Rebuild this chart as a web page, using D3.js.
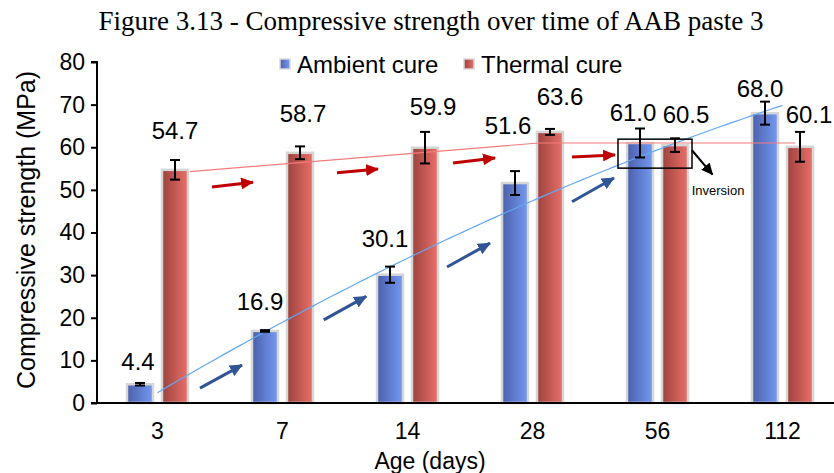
<!DOCTYPE html>
<html lang="en">
<head>
  <meta charset="utf-8">
  <title>Compressive strength over time of AAB paste 3</title>
  <script src="https://d3js.org/d3.v7.min.js"></script>
  <style>
    body { margin: 0; background: #fff; }
    text { font-family: "Liberation Sans", Arial, sans-serif; fill: #000; }
  </style>
</head>
<body>
<div id="chart"></div>
<script>
  // data
  var ages = ["3", "7", "14", "28", "56", "112"];
  var ambient = [4.4, 16.9, 30.1, 51.6, 61.0, 68.0];
  var thermal = [54.7, 58.7, 59.9, 63.6, 60.5, 60.1];
  var ambientErr = [0.3, 0.2, 1.9, 2.8, 3.4, 2.7];
  var thermalErr = [2.3, 1.5, 3.7, 0.7, 1.6, 3.5];
  var yTicks = [0, 10, 20, 30, 40, 50, 60, 70, 80];

  var width = 834, height = 473;
  var plotLeft = 97, plotRight = 845, plotTop = 62, plotBottom = 403;

  var svg = d3.select("#chart").append("svg")
    .attr("width", width)
    .attr("height", height);

  var defs = svg.append("defs");
  function grad(id, c0, c1) {
    var g = defs.append("linearGradient").attr("id", id)
      .attr("x1", "0%").attr("x2", "100%").attr("y1", "0%").attr("y2", "0%");
    g.append("stop").attr("offset", "0%").attr("stop-color", c0);
    g.append("stop").attr("offset", "100%").attr("stop-color", c1);
  }
  grad("gBlue", "#4a60ab", "#7599f2");
  grad("gRed", "#9c423d", "#ea6f69");

  function marker(id, color, len, wid) {
    defs.append("marker").attr("id", id)
      .attr("markerUnits", "userSpaceOnUse")
      .attr("viewBox", "0 0 " + len + " " + wid)
      .attr("refX", len - 1).attr("refY", wid / 2)
      .attr("markerWidth", len).attr("markerHeight", wid)
      .attr("orient", "auto")
      .append("path")
      .attr("d", "M0,0L" + len + "," + (wid / 2) + "L0," + wid + "Z")
      .attr("fill", color);
  }
  marker("mRed", "#c00000", 13, 12);
  marker("mBlue", "#2f5597", 13, 12);
  marker("mBlack", "#000", 12, 11);

  // scales
  var x0 = d3.scaleBand().domain(ages).range([plotLeft - 2, plotRight])
    .paddingInner(0.512).paddingOuter(0.256);
  var x1 = d3.scaleBand().domain(["a", "t"]).range([0, x0.bandwidth()])
    .paddingInner(0.257);
  var y = d3.scaleLinear().domain([0, 80]).range([plotBottom, plotTop]);
  // group index -> group centre, used for the annotations
  var xi = d3.scaleLinear().domain([0, 1])
    .range([x0(ages[0]) + x0.bandwidth() / 2, x0(ages[1]) + x0.bandwidth() / 2]);

  // title
  svg.append("text")
    .attr("x", 431).attr("y", 30)
    .attr("text-anchor", "middle")
    .style("font-family", "'Liberation Serif', 'Times New Roman', serif")
    .style("font-size", "27px")
    .text("Figure 3.13 - Compressive strength over time of AAB paste 3");

  // legend
  var legend = [["Ambient cure", "url(#gBlue)", 280], ["Thermal cure", "url(#gRed)", 464]];
  legend.forEach(function(l) {
    svg.append("rect").attr("x", l[2]).attr("y", 59).attr("width", 10).attr("height", 10)
      .attr("fill", l[1]).attr("stroke", "#d9d9d9").attr("stroke-width", 1.5);
    svg.append("text").attr("x", l[2] + 17).attr("y", 73)
      .style("font-size", "24px").text(l[0]);
  });

  // bars
  var rows = ages.map(function(a, i) {
    return [
      { age: a, key: "a", v: ambient[i], e: ambientErr[i], fill: "url(#gBlue)" },
      { age: a, key: "t", v: thermal[i], e: thermalErr[i], fill: "url(#gRed)" }
    ];
  });
  var flat = [].concat.apply([], rows);

  svg.selectAll(".bar").data(flat).enter().append("rect")
    .attr("class", "bar")
    .attr("x", function(d) { return x0(d.age) + x1(d.key); })
    .attr("y", function(d) { return y(d.v); })
    .attr("width", x1.bandwidth())
    .attr("height", function(d) { return y(0) - y(d.v); })
    .attr("fill", function(d) { return d.fill; })
    .attr("stroke", "#d6d6d6")
    .attr("stroke-width", 2.5);

  // quadratic trendline of the ambient series
  var n = ambient.length;
  var ts = d3.range(n).map(function(i) { return i - (n - 1) / 2; });
  var uMean = d3.mean(ts, function(t) { return t * t; });
  var us = ts.map(function(t) { return t * t - uMean; });
  var yMean = d3.mean(ambient);
  var c1 = d3.sum(ts, function(t, i) { return t * ambient[i]; }) / d3.sum(ts, function(t) { return t * t; });
  var c2 = d3.sum(us, function(u, i) { return u * ambient[i]; }) / d3.sum(us, function(u) { return u * u; });
  function trend(i) {
    var t = i - (n - 1) / 2;
    return yMean + c1 * t + c2 * (t * t - uMean);
  }
  var line = d3.line()
    .x(function(d) { return xi(d); })
    .y(function(d) { return y(trend(d)); });
  svg.append("path")
    .datum(d3.range(0, n - 1 + 0.001, 0.05))
    .attr("d", line)
    .attr("fill", "none")
    .attr("stroke", "#62a8f3")
    .attr("stroke-width", 1.2);

  // thermal guide line (drawn shape in the original)
  var redGuide = [[0.26, 54.3], [3.05, 61.0], [5.1, 61.0]];
  svg.append("path")
    .attr("d", d3.line().x(function(d) { return xi(d[0]); }).y(function(d) { return y(d[1]); })(redGuide))
    .attr("fill", "none")
    .attr("stroke", "#f47c7c")
    .attr("stroke-width", 1.2);

  // error bars
  var eb = svg.append("g").attr("stroke", "#000").attr("stroke-width", 2);
  flat.forEach(function(d) {
    var cx = x0(d.age) + x1(d.key) + x1.bandwidth() / 2;
    eb.append("line").attr("x1", cx).attr("x2", cx).attr("y1", y(d.v - d.e)).attr("y2", y(d.v + d.e));
    eb.append("line").attr("x1", cx - 5).attr("x2", cx + 5).attr("y1", y(d.v - d.e)).attr("y2", y(d.v - d.e));
    eb.append("line").attr("x1", cx - 5).attr("x2", cx + 5).attr("y1", y(d.v + d.e)).attr("y2", y(d.v + d.e));
  });

  // value labels, nudged where the original moved them (px)
  var liftA = [13, 20, 20, 37, 7, 5];
  var liftT = [21, 24, 17, 24, 15, 9];
  var nudgeA = [-2, -5, -5, -7, -7, -5];
  var nudgeT = [0, 3, 8, 10, 11, 9];
  flat.forEach(function(d, k) {
    var i = Math.floor(k / 2);
    var cx = x0(d.age) + x1(d.key) + x1.bandwidth() / 2;
    var isA = d.key === "a";
    svg.append("text")
      .attr("x", cx + (isA ? nudgeA[i] : nudgeT[i]))
      .attr("y", y(d.v + d.e) - (isA ? liftA[i] : liftT[i]))
      .attr("text-anchor", "middle")
      .style("font-size", "24px")
      .text(d.v.toFixed(1));
  });

  // arrows
  var redArrows = [[0.436, 50.7, 0.764, 51.8], [1.436, 54.0, 1.764, 54.9],
                   [2.364, 56.3, 2.70, 57.5], [3.316, 57.7, 3.66, 58.2]];
  var blueArrows = [[0.34, 3.5, 0.676, 8.9], [1.33, 19.5, 1.67, 25.0],
                    [2.316, 31.9, 2.66, 37.5], [3.316, 47.2, 3.652, 52.8]];
  function arrows(list, color, mk) {
    list.forEach(function(a) {
      svg.append("line")
        .attr("x1", xi(a[0])).attr("y1", y(a[1]))
        .attr("x2", xi(a[2])).attr("y2", y(a[3]))
        .attr("stroke", color).attr("stroke-width", 3)
        .attr("marker-end", "url(#" + mk + ")");
    });
  }
  arrows(redArrows, "#c00000", "mRed");
  arrows(blueArrows, "#2f5597", "mBlue");

  // inversion box
  svg.append("rect")
    .attr("x", xi(3.684)).attr("y", y(61.9))
    .attr("width", xi(4.276) - xi(3.684)).attr("height", y(55.1) - y(61.9))
    .attr("fill", "none").attr("stroke", "#000").attr("stroke-width", 1.5);
  svg.append("line")
    .attr("x1", xi(4.276)).attr("y1", y(59.3))
    .attr("x2", xi(4.44)).attr("y2", y(53.6))
    .attr("stroke", "#000").attr("stroke-width", 2)
    .attr("marker-end", "url(#mBlack)");
  svg.append("text")
    .attr("x", 718).attr("y", 195)
    .attr("text-anchor", "middle")
    .style("font-size", "13px")
    .text("Inversion");

  // axes
  var yAxis = svg.append("g")
    .attr("transform", "translate(" + plotLeft + ",0)")
    .call(d3.axisLeft(y).tickValues(yTicks).tickSize(6).tickPadding(6));
  yAxis.select(".domain").attr("stroke", "#000").attr("stroke-width", 2)
    .attr("d", "M-6," + plotTop + "H0V" + plotBottom + "H-6");
  yAxis.selectAll(".tick line").attr("stroke", "#000").attr("stroke-width", 2);
  yAxis.selectAll("text").style("font-size", "23px").style("font-family", "'Liberation Sans', Arial, sans-serif");

  var xAxis = svg.append("g")
    .attr("transform", "translate(0," + plotBottom + ")")
    .call(d3.axisBottom(x0).tickSize(0).tickPadding(20));
  xAxis.select(".domain").attr("stroke", "#000").attr("stroke-width", 2)
    .attr("d", "M" + plotLeft + ",0H" + width);
  xAxis.selectAll("text").style("font-size", "23px").style("font-family", "'Liberation Sans', Arial, sans-serif");

  svg.append("text")
    .attr("x", 430).attr("y", 469)
    .attr("text-anchor", "middle")
    .style("font-size", "23px")
    .text("Age (days)");
  svg.append("text")
    .attr("transform", "translate(35,230) rotate(-90)")
    .attr("text-anchor", "middle")
    .style("font-size", "25px")
    .text("Compressive strength (MPa)");
</script>
</body>
</html>
